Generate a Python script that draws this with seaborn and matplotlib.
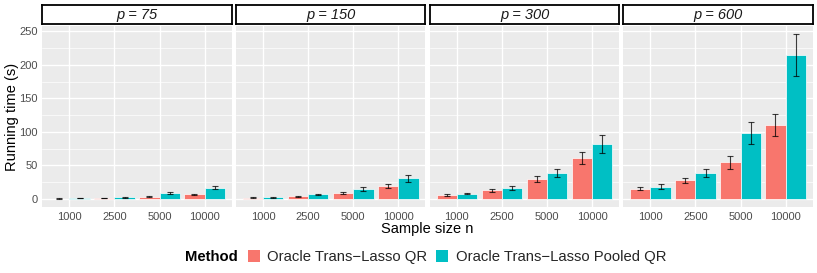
import numpy as np
import pandas as pd
import matplotlib
matplotlib.use("Agg")
import matplotlib.pyplot as plt
from matplotlib.patches import Patch
import seaborn as sns

# ---- data ----
p_values = [75, 150, 300, 600]
n_values = ["1000", "2500", "5000", "10000"]
methods = ["Oracle Trans\u2212Lasso QR", "Oracle Trans\u2212Lasso Pooled QR"]

# mean running time (s): [p][n]
time_qr = [
    [0.8, 1.5, 3.5, 7.0],
    [2.0, 4.0, 9.0, 19.0],
    [6.0, 13.0, 30.0, 61.0],
    [15.5, 28.0, 54.5, 110.0],
]
time_pooled = [
    [1.5, 3.0, 9.0, 16.5],
    [3.0, 7.0, 15.0, 31.0],
    [8.0, 16.0, 39.0, 82.0],
    [18.5, 39.0, 98.5, 214.5],
]
# error bar half-widths
err_qr = [
    [0.3, 0.4, 0.8, 1.2],
    [0.5, 0.8, 1.8, 3.0],
    [1.0, 2.0, 5.0, 9.5],
    [2.5, 4.0, 9.0, 16.5],
]
err_pooled = [
    [0.4, 0.7, 1.5, 2.2],
    [0.7, 1.2, 2.8, 5.0],
    [1.2, 3.0, 6.0, 13.0],
    [3.5, 6.0, 16.0, 31.0],
]

rows = []
for pi, p in enumerate(p_values):
    for ni, n in enumerate(n_values):
        rows.append(dict(p=p, n=n, method=methods[0], time=time_qr[pi][ni], err=err_qr[pi][ni]))
        rows.append(dict(p=p, n=n, method=methods[1], time=time_pooled[pi][ni], err=err_pooled[pi][ni]))
df = pd.DataFrame(rows)

colors = {methods[0]: "#F8766D", methods[1]: "#00BFC4"}

sns.set_theme(style="darkgrid")
plt.rcParams["font.family"] = ["Liberation Sans", "DejaVu Sans"]

W, H = 817, 273
fig = plt.figure(figsize=(W / 100, H / 100), dpi=100)

panel_x = [42.3, 236.0, 429.8, 623.3]
panel_w = 189.4
panel_top, panel_bot = 26.0, 207.3
strip_top, strip_bot = 4.5, 24.3

def fx(x):
    return x / W

def fy(y):
    return 1 - y / H

for pi, p in enumerate(p_values):
    ax = fig.add_axes([fx(panel_x[pi]), fy(panel_bot), panel_w / W, (panel_bot - panel_top) / H])
    sub = df[df.p == p]
    sns.barplot(data=sub, x="n", y="time", hue="method", order=n_values,
                hue_order=methods, palette=colors, width=0.9, errorbar=None,
                saturation=1, edgecolor="white", linewidth=0.5, legend=False,
                ax=ax, zorder=2)
    for hi, (m, cont) in enumerate(zip(methods, ax.containers)):
        sm = sub[sub.method == m].set_index("n").loc[n_values]
        xs = [b.get_x() + b.get_width() / 2 for b in cont]
        ax.errorbar(xs, sm["time"].values, yerr=sm["err"].values, fmt="none",
                    ecolor="black", elinewidth=0.8, capsize=2.0, capthick=0.8,
                    alpha=0.75, zorder=3)
    ax.set_facecolor("#EBEBEB")
    ax.set_xlim(-0.6, 3.6)
    ax.set_ylim(-12.3, 257.8)
    ax.set_yticks([0, 50, 100, 150, 200, 250])
    ax.set_yticks([25, 75, 125, 175, 225], minor=True)
    ax.grid(True, which="major", color="white", linewidth=1.0)
    ax.grid(True, which="minor", axis="y", color="white", linewidth=0.5)
    ax.set_axisbelow(True)
    for s in ax.spines.values():
        s.set_visible(False)
    ax.set_xlabel("")
    ax.set_ylabel("")
    ax.tick_params(axis="both", which="major", length=2.2, width=0.6, color="#333333",
                   labelsize=8, labelcolor="#4D4D4D", pad=1.3)
    ax.tick_params(axis="both", which="minor", length=0)
    if pi > 0:
        ax.tick_params(axis="y", which="major", length=0, labelleft=False)

    # strip
    sax = fig.add_axes([fx(panel_x[pi]), fy(strip_bot), panel_w / W, (strip_bot - strip_top) / H])
    sax.set_facecolor("white")
    sax.grid(False)
    sax.set_xticks([])
    sax.set_yticks([])
    for s in sax.spines.values():
        s.set_visible(True)
        s.set_color("black")
        s.set_linewidth(1.3)
    sax.text(0.5, 0.45, f"p = {p}", transform=sax.transAxes, ha="center", va="center",
             fontsize=10.5, style="italic", color="#1A1A1A")

fig.text(fx(12), fy(117), "Running time (s)", rotation=90, ha="center", va="center",
         fontsize=10.5, color="black")
fig.text(fx(427.5), fy(228.5), "Sample size n", ha="center", va="center",
         fontsize=10.5, color="black")

fig.text(fx(185), fy(257.3), "Method", ha="left", va="center", fontsize=10.7,
         fontweight="bold", color="black")
handles = [Patch(facecolor=colors[m], edgecolor="none", label=m) for m in methods]
fig.legend(handles=handles, loc="center left", bbox_to_anchor=(fx(247.7), fy(257.3)),
           ncol=2, frameon=False, fontsize=10.7, handlelength=0.8, handleheight=0.8,
           handletextpad=0.52, columnspacing=0.6, borderpad=0, borderaxespad=0)

fig.savefig("out.png", dpi=100)
